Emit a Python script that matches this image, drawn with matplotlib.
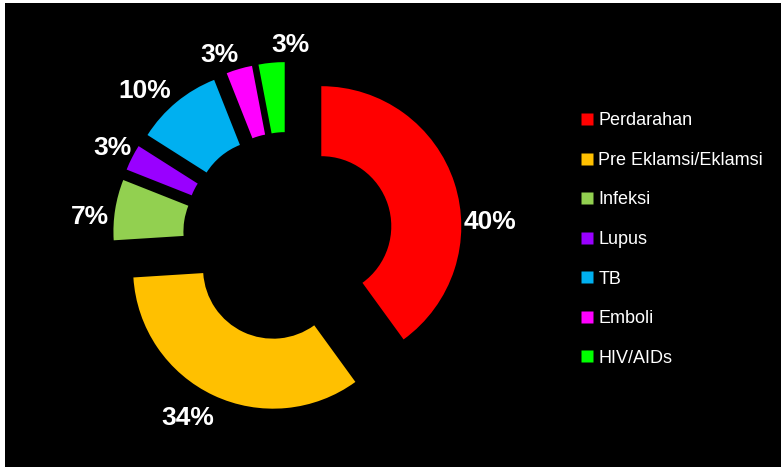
import matplotlib.pyplot as plt
from matplotlib.lines import Line2D
from matplotlib.patches import Rectangle

categories = ["Perdarahan", "Pre Eklamsi/Eklamsi", "Infeksi", "Lupus", "TB", "Emboli", "HIV/AIDs"]
values = [40, 34, 7, 3, 10, 3, 3]
colors = ["#FF0000", "#FFC000", "#92D050", "#9900FF", "#00B0F0", "#FF00FF", "#00FF00"]
pct_labels = ["40%", "34%", "7%", "3%", "10%", "3%", "3%"]

# label positions (data units, pie radius = 1)
label_pos = [(1.443, 0.107), (-0.714, -1.293), (-1.414, 0.143), (-1.257, 0.636),
             (-1.021, 1.043), (-0.493, 1.3), (0.021, 1.371)]

font = ["Liberation Sans Narrow", "Liberation Sans", "DejaVu Sans"]

fig = plt.figure(figsize=(7.81, 4.69), dpi=100)
fig.patch.set_facecolor("white")
fig.patches.append(Rectangle((5 / 781, 0.004), 1, 1 - 3 / 469 - 0.004, transform=fig.transFigure,
                             facecolor="black", edgecolor="none", zorder=-5))

ax = fig.add_axes([0, 0, 1, 1])
ax.patch.set_alpha(0)
wedges, _ = ax.pie(values, colors=colors, startangle=90, counterclock=False,
                   explode=[0.25] * len(values), radius=1,
                   wedgeprops=dict(width=0.5, edgecolor="none"))

for (x, y), t in zip(label_pos, pct_labels):
    ax.text(x, y, t, color="white", fontsize=19, fontweight="bold", family=font,
            ha="center", va="center")

r = 140.0
ax.set_xlim(-288 / r, (781 - 288) / r)
ax.set_ylim(-232 / r, 237 / r)
ax.set_aspect("equal")
ax.axis("off")

handles = [Line2D([], [], marker="s", linestyle="none", markersize=8,
                  markerfacecolor=c, markeredgecolor="none") for c in colors]
leg = fig.legend(handles, categories, loc="upper left", bbox_to_anchor=(564 / 781, 1 - 96 / 469),
                 frameon=False, labelspacing=1.25, handlelength=0.8, handletextpad=0.2,
                 prop={"family": font, "size": 13})
for t in leg.get_texts():
    t.set_color("white")

plt.savefig("out.png", dpi=100, facecolor=fig.get_facecolor())
